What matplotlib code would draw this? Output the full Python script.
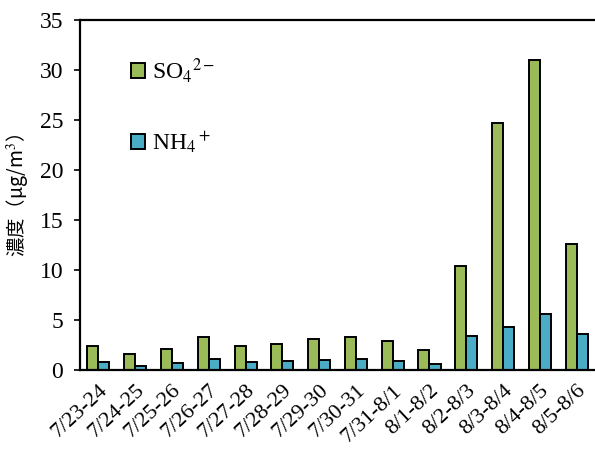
import matplotlib
matplotlib.use("Agg")
import numpy as np
import matplotlib.pyplot as plt

plt.rcParams["font.family"] = ["Liberation Serif", "Noto Sans CJK JP", "DejaVu Sans"]
plt.rcParams["mathtext.fontset"] = "stix"

periods = ["7/23-24", "7/24-25", "7/25-26", "7/26-27", "7/27-28", "7/28-29", "7/29-30",
           "7/30-31", "7/31-8/1", "8/1-8/2", "8/2-8/3", "8/3-8/4", "8/4-8/5", "8/5-8/6"]
so4 = [2.4, 1.6, 2.1, 3.3, 2.4, 2.6, 3.1, 3.3, 2.9, 2.0, 10.4, 24.7, 31.0, 12.6]
nh4 = [0.8, 0.4, 0.7, 1.1, 0.8, 0.9, 1.0, 1.1, 0.9, 0.6, 3.4, 4.3, 5.6, 3.6]

GREEN = "#9BBB59"
BLUE = "#4BACC6"

fig = plt.figure(figsize=(5.95, 4.51), dpi=100)
ax = fig.add_axes([0.1345, 0.1796, 0.8655, 0.7761])

x = np.arange(len(periods))
w = 0.3
ax.bar(x - w / 2, so4, width=w, color=GREEN, edgecolor="black", linewidth=1.4,
       label=r"SO$_4$$^{2-}$")
ax.bar(x + w / 2, nh4, width=w, color=BLUE, edgecolor="black", linewidth=1.4,
       label=r"NH$_4$$^+$")

ax.set_xlim(-0.5, len(periods) - 0.5)
ax.set_ylim(0, 35)
ax.set_yticks(range(0, 36, 5))
ax.set_xticks(x)
ax.set_xticklabels(periods, rotation=43, ha="right", rotation_mode="anchor", fontsize=16)
ax.tick_params(axis="x", length=0, pad=8)
ax.tick_params(axis="y", labelsize=17, length=4, width=1.2, direction="out", pad=8)
ax.spines["right"].set_visible(False)
for s in ("left", "bottom", "top"):
    ax.spines[s].set_linewidth(1.6)

ax.set_ylabel("濃度（μg/m$^3$）", family=["Noto Sans CJK JP", "DejaVu Sans"], fontsize=14,
              labelpad=6)

ax.legend(loc="upper left", bbox_to_anchor=(0.057, 0.958), frameon=False, fontsize=17,
          handlelength=0.6, handleheight=0.6, handletextpad=0.3, labelspacing=1.9)

fig.savefig("out.png", dpi=100)
